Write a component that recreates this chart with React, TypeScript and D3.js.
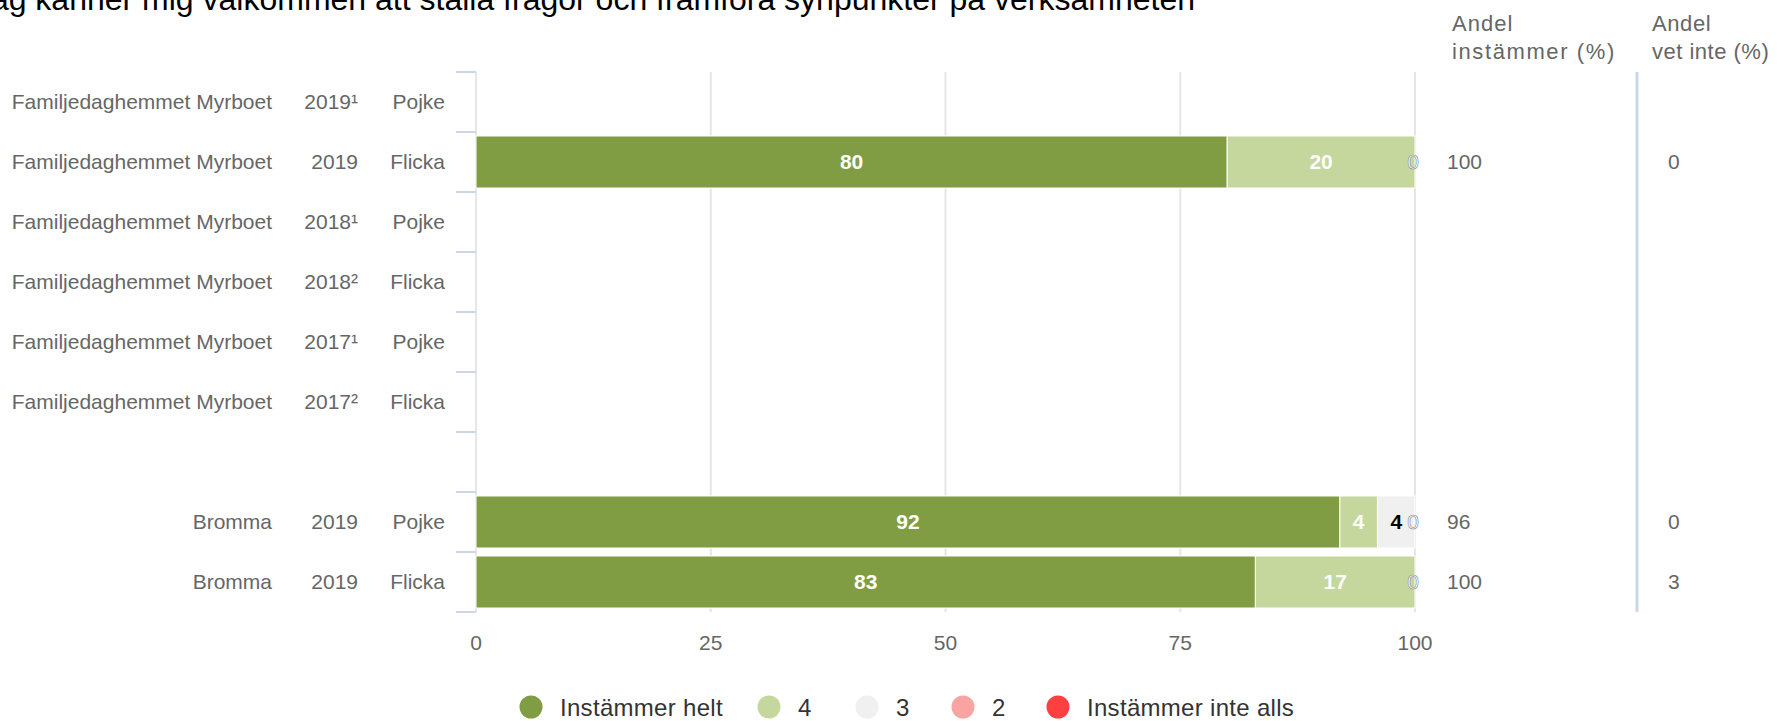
import * as d3 from "d3";

// rader i diagrammet
const names = [
  "Familjedaghemmet Myrboet",
  "Familjedaghemmet Myrboet",
  "Familjedaghemmet Myrboet",
  "Familjedaghemmet Myrboet",
  "Familjedaghemmet Myrboet",
  "Familjedaghemmet Myrboet",
  "",
  "Bromma",
  "Bromma",
];
const years = ["2019¹", "2019", "2018¹", "2018²", "2017¹", "2017²", "", "2019", "2019"];
const genders = ["Pojke", "Flicka", "Pojke", "Flicka", "Pojke", "Flicka", "", "Pojke", "Flicka"];

// svarsalternativ (serier)
const seriesNames = ["Instämmer helt", "4", "3", "2", "Instämmer inte alls"];
const seriesColors = ["#819d44", "#c5d79d", "#f0f0f0", "#faa3a3", "#ff4040"];

// värden per serie, null = inget data
const helt = [null, 80, null, null, null, null, null, 92, 83];
const fyra = [null, 20, null, null, null, null, null, 4, 17];
const tre = [null, 0, null, null, null, null, null, 4, 0];
const tva = [null, 0, null, null, null, null, null, 0, 0];
const inteAlls = [null, 0, null, null, null, null, null, 0, 0];

// kolumner till höger
const andelInstammer = [null, 100, null, null, null, null, null, 96, 100];
const andelVetInte = [null, 0, null, null, null, null, null, 0, 3];

const xTicks = [0, 25, 50, 75, 100];

const title =
  "Jag känner mig välkommen att ställa frågor och framföra synpunkter på verksamheten";

const W = 1777;
const H = 721;
const margin = { top: 72, bottom: 109, left: 476, right: 362 };
const font = "'Liberation Sans', Arial, sans-serif";

// legendens x-positioner (cirkelns mitt)
const legendX = [531, 769, 867, 963, 1058];

export default function App() {
  const seriesValues = [helt, fyra, tre, tva, inteAlls];
  const idx = names.map((_, i) => i);

  const x = d3.scaleLinear().domain([0, 100]).range([margin.left, W - margin.right]);
  const y = d3
    .scaleBand<number>()
    .domain(idx)
    .range([margin.top, H - margin.bottom])
    .paddingInner(0.133)
    .paddingOuter(0.0667);
  const step = y.step();
  const rowMid = (i: number) => (y(i) as number) + y.bandwidth() / 2;

  const table = idx
    .filter((i) => helt[i] !== null)
    .map((i) => {
      const row: any = { i };
      seriesNames.forEach((s, k) => (row[s] = seriesValues[k][i] ?? 0));
      return row;
    });
  const stacked = d3.stack<any>().keys(seriesNames)(table);

  const boundaries = d3.range(names.length + 1).map((k) => margin.top + k * step);

  // nollor: en etikett per rad, vid stapelns slut
  const zeroLabels: { i: number; x: number }[] = [];
  table.forEach((row) => {
    const k = seriesNames.findIndex((s) => row[s] === 0);
    if (k >= 0) {
      const seg = stacked[k].find((d) => d.data.i === row.i)!;
      zeroLabels.push({ i: row.i, x: x(seg[0]) });
    }
  });

  return (
    <svg
      width={W}
      height={H}
      style={{ position: "absolute", left: 0, top: 0, fontFamily: font }}
    >
      <rect width={W} height={H} fill="#fff" />
      <text x={1195} y={10} fontSize={32} textAnchor="end" fill="#000">
        {title}
      </text>

      {/* rubriker för kolumnerna */}
      <g fontSize={22} fill="#666">
        <text x={1452} y={31} letterSpacing={1}>Andel</text>
        <text x={1452} y={59} letterSpacing={1.6}>instämmer (%)</text>
        <text x={1652} y={31} letterSpacing={0.6}>Andel</text>
        <text x={1652} y={59} letterSpacing={0.5}>vet inte (%)</text>
      </g>

      {/* rutnät */}
      {xTicks.map((t) => (
        <line
          key={t}
          x1={x(t)}
          x2={x(t)}
          y1={margin.top}
          y2={H - margin.bottom}
          stroke="#e6e6e6"
          strokeWidth={2}
        />
      ))}
      {boundaries.map((b, k) => (
        <line key={k} x1={margin.left - 20} x2={margin.left} y1={b} y2={b} stroke="#ccd6eb" strokeWidth={2} />
      ))}
      <line x1={1637} x2={1637} y1={margin.top} y2={H - margin.bottom} stroke="#ccd6eb" strokeWidth={3} />

      {/* staplar */}
      {stacked.map((layer, k) => (
        <g key={layer.key} fill={seriesColors[k]}>
          {layer.map((d) =>
            d[1] - d[0] > 0 ? (
              <rect
                key={d.data.i}
                x={x(d[0])}
                y={y(d.data.i)}
                width={x(d[1]) - x(d[0])}
                height={y.bandwidth()}
                stroke="#fff"
                strokeWidth={1}
              />
            ) : null
          )}
        </g>
      ))}

      {/* dataetiketter */}
      {stacked.map((layer, k) =>
        layer.map((d) =>
          d[1] - d[0] > 0 ? (
            <text
              key={layer.key + d.data.i}
              x={(x(d[0]) + x(d[1])) / 2}
              y={rowMid(d.data.i)}
              dy="0.35em"
              textAnchor="middle"
              fontSize={21}
              fontWeight="bold"
              fill={k === 2 ? "#000" : "#fff"}
            >
              {d[1] - d[0]}
            </text>
          ) : null
        )
      )}
      {zeroLabels.map((z) => (
        <text
          key={"z" + z.i}
          x={z.x - 2}
          y={rowMid(z.i)}
          dy="0.35em"
          textAnchor="middle"
          fontSize={21}
          fill="#fff"
          stroke="#8a8a8a"
          strokeWidth={0.6}
        >
          0
        </text>
      ))}

      {/* kategorietiketter */}
      <g fontSize={21} fill="#666" textAnchor="end">
        {idx.map((i) => (
          <g key={i}>
            <text x={272} y={rowMid(i)} dy="0.35em">{names[i]}</text>
            <text x={358} y={rowMid(i)} dy="0.35em">{years[i]}</text>
            <text x={445} y={rowMid(i)} dy="0.35em">{genders[i]}</text>
          </g>
        ))}
      </g>

      {/* högerkolumner */}
      <g fontSize={21} fill="#666">
        {idx.map((i) =>
          andelInstammer[i] !== null ? (
            <g key={i}>
              <text x={1447} y={rowMid(i)} dy="0.35em">{andelInstammer[i]}</text>
              <text x={1668} y={rowMid(i)} dy="0.35em">{andelVetInte[i]}</text>
            </g>
          ) : null
        )}
      </g>

      {/* x-axel */}
      <g fontSize={21} fill="#666" textAnchor="middle">
        {xTicks.map((t) => (
          <text key={t} x={x(t)} y={643} dy="0.35em">{t}</text>
        ))}
      </g>

      {/* legend */}
      <g fontSize={24} fill="#333" letterSpacing={0.3}>
        {seriesNames.map((s, k) => (
          <g key={s}>
            <circle cx={legendX[k]} cy={707} r={11.5} fill={seriesColors[k]} />
            <text x={legendX[k] + 29} y={708} dy="0.35em">{s}</text>
          </g>
        ))}
      </g>
    </svg>
  );
}
